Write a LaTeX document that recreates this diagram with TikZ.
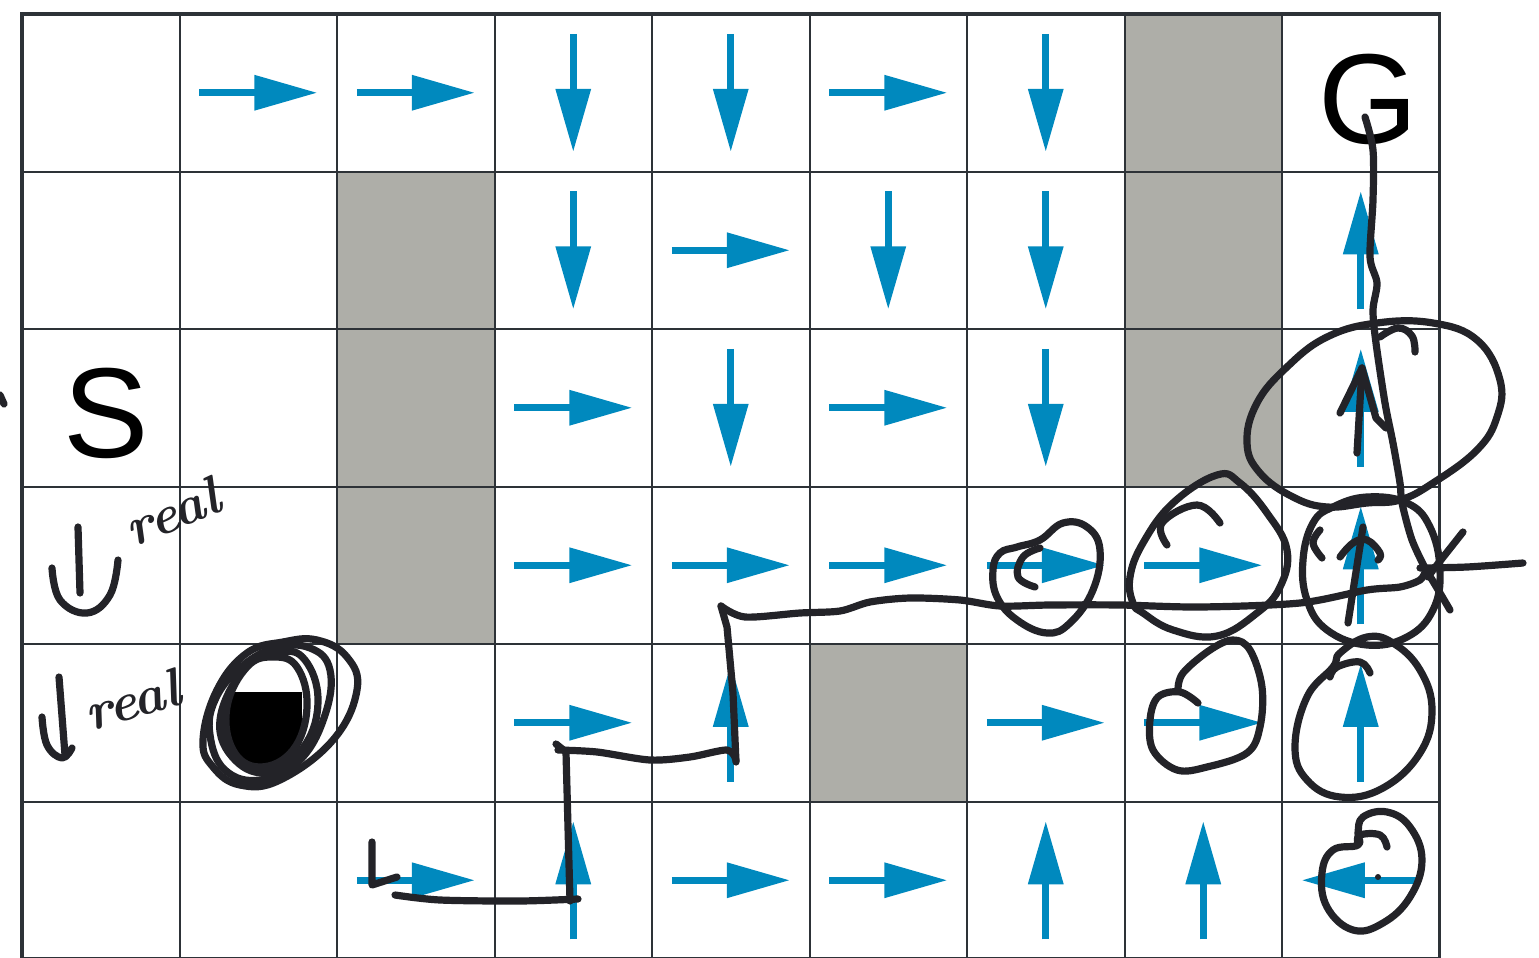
\documentclass[tikz,border=0pt]{standalone}
\usepackage{fontspec}
\newfontfamily\labfont{Liberation Sans}
\usetikzlibrary{arrows.meta}
\definecolor{gridc}{RGB}{45,50,55}
\definecolor{greyc}{RGB}{174,174,168}
\definecolor{arrowc}{RGB}{0,137,190}
\definecolor{inkc}{RGB}{35,35,40}
\tikzset{
  gridline/.style={draw=gridc, line width=1pt},
  barrow/.style={draw=arrowc, line width=3.3pt, -{Triangle[length=31.5pt,width=17pt]}},
  lab/.style={font=\labfont\fontsize{64}{64}\selectfont, text=black, inner sep=0pt},
  ink/.style={draw=inkc, line width=3.6pt, line cap=round, line join=round},
  handtext/.style={font=\bfseries\itshape\fontsize{27}{27}\selectfont, text=inkc, inner sep=0pt}
}
\begin{document}
\begin{tikzpicture}[x=0.5pt,y=-0.5pt]
\useasboundingbox (0,0) rectangle (1539,958);
\fill[white] (0,0) rectangle (1539,958);
% grey cells
\foreach \c/\r in {7/0,2/1,7/1,2/2,7/2,2/3,5/4}
  \fill[greyc] ({22+157.5*\c},{14+157.5*\r}) rectangle ++(157.5,157.5);
% grid
\foreach \k in {0,...,9}
  \draw[gridline] ({22+157.5*\k},14) -- ({22+157.5*\k},959);
\foreach \k in {0,...,6}
  \draw[gridline] (22,{14+157.5*\k}) -- (1439.5,{14+157.5*\k});
\draw[gridline, line width=1.6pt] (22,14) rectangle (1439.5,959);
% blue policy arrows: col/row/dx/dy
\foreach \c/\r/\dx/\dy in {
  1/0/1/0, 2/0/1/0, 3/0/0/1, 4/0/0/1, 5/0/1/0, 6/0/0/1,
  3/1/0/1, 4/1/1/0, 5/1/0/1, 6/1/0/1, 8/1/0/-1,
  3/2/1/0, 4/2/0/1, 5/2/1/0, 6/2/0/1, 8/2/0/-1,
  3/3/1/0, 4/3/1/0, 5/3/1/0, 6/3/1/0, 7/3/1/0, 8/3/0/-1,
  3/4/1/0, 4/4/0/-1, 6/4/1/0, 7/4/1/0, 8/4/0/-1,
  2/5/1/0, 3/5/0/-1, 4/5/1/0, 5/5/1/0, 6/5/0/-1, 7/5/0/-1, 8/5/-1/0}
  \draw[barrow] ({100.75+157.5*\c-59*(\dx)},{92.75+157.5*\r-59*(\dy)}) -- ({100.75+157.5*\c+59*(\dx)},{92.75+157.5*\r+59*(\dy)});
% labels
\node[lab] (S) at (106,413) {S};
\node[lab] (G) at (1368,99) {G};
% black square scribble
\begin{scope}
  \clip plot[smooth cycle, tension=0.7] coordinates {(224,707) (230,752) (260,770) (296,752) (310,707) (300,665) (273,655) (245,665)};
  \fill[black] (222,692) rectangle (302,775);
\end{scope}
\draw[ink] plot[smooth cycle, tension=0.7] coordinates {(203,740) (213,767) (240,785) (280,780) (333,740) (357,690) (347,657) (317,640) (283,642) (247,653) (217,690)};
\draw[ink] plot[smooth cycle, tension=0.7] coordinates {(210,735) (225,770) (260,780) (300,760) (325,715) (330,670) (310,648) (275,648) (240,668) (215,700)};
\draw[ink] plot[smooth cycle, tension=0.7] coordinates {(227,707) (233,750) (260,767) (293,750) (307,707) (297,667) (273,657) (247,667)};
\draw[ink] plot[smooth cycle, tension=0.7] coordinates {(220,720) (235,760) (270,772) (305,745) (318,700) (305,660) (280,652) (245,668)};
% "down real" notes
\draw[ink] (78,527) -- (80,593);
\draw[ink] plot[smooth, tension=0.7] coordinates {(52,568) (60,600) (87,613) (110,595) (118,560)};
\node[handtext, rotate=22] (real1) at (172,512) {real};
\draw[ink] (59,677) -- (65,755);
\draw[ink] plot[smooth, tension=0.7] coordinates {(42,717) (47,745) (62,758) (72,748)};
\node[handtext, rotate=16] (real2) at (132,700) {real};
\draw[ink] (0,395) -- (4,404);
% start mark L
\draw[ink] (372,842) -- (372,885) -- (397,877);
% path
\draw[ink] plot[smooth, tension=0.5] coordinates {(395,895) (440,900) (520,901) (578,899)};
\draw[ink] (570,901) -- (568,827) -- (566,752) -- (556,744);
\draw[ink] plot[smooth, tension=0.5] coordinates {(558,750) (597,752) (650,760) (690,757) (727,750) (736,760)};
\draw[ink] (736,762) -- (733,693) -- (727,627) -- (721,606);
\draw[ink] plot[smooth, tension=0.5] coordinates {(721,606) (745,617) (800,613) (840,611) (870,602) (910,598) (960,600) (1000,606) (1050,605) (1120,605) (1200,607) (1300,603) (1367,590) (1400,587) (1420,580) (1426,570)};
\draw[ink] plot[smooth, tension=0.5] coordinates {(1426,570) (1412,540) (1402,503) (1400,483) (1393,443) (1385,403) (1376,343) (1373,310) (1377,283) (1370,257) (1373,200) (1373,150) (1365,117)};
% circle row3 col6
\draw[ink] plot[smooth cycle, tension=0.7] coordinates {(993,570) (1000,553) (1017,547) (1040,540) (1063,523) (1087,527) (1100,550) (1093,590) (1070,623) (1047,633) (1017,620) (997,597)};
\draw[ink] plot[smooth, tension=0.7] coordinates {(1040,548) (1023,557) (1018,577) (1035,587)};
% circle row3 col7
\draw[ink] plot[smooth cycle, tension=0.7] coordinates {(1133,603) (1130,577) (1143,543) (1173,503) (1217,475) (1240,483) (1267,513) (1287,550) (1280,587) (1257,613) (1217,636) (1173,630) (1143,613)};
\draw[ink] plot[smooth, tension=0.7] coordinates {(1167,545) (1162,523) (1197,505) (1220,523)};
% big ellipse row2 col8
\draw[ink] plot[smooth cycle, tension=0.7] coordinates {(1247,443) (1257,403) (1287,367) (1327,337) (1377,323) (1433,323) (1477,340) (1500,380) (1497,417) (1477,450) (1433,483) (1400,500) (1367,503) (1327,507) (1293,497) (1260,473)};
\draw[ink] plot[smooth, tension=0.7] coordinates {(1380,337) (1398,328) (1412,336) (1415,352)};
\draw[ink] (1357,453) -- (1362,368);
\draw[ink] (1340,413) -- (1362,368) -- (1376,418) -- (1386,428);
% circle row3 col8
\draw[ink] plot[smooth cycle, tension=0.7] coordinates {(1313,523) (1303,560) (1307,600) (1327,630) (1367,645) (1407,637) (1433,610) (1440,570) (1430,527) (1407,503) (1367,497) (1333,507)};
\draw[ink] plot[smooth, tension=0.7] coordinates {(1320,530) (1313,543) (1322,558)};
\draw[ink] (1348,623) -- (1363,527);
\draw[ink] plot[smooth, tension=0.7] coordinates {(1340,557) (1353,543) (1367,540) (1380,553) (1378,560)};
% star mark and right stroke
\draw[ink] (1463,532) -- (1433,570) -- (1428,577);
\draw[ink] (1428,573) -- (1440,593) -- (1450,610);
\draw[ink] plot[smooth, tension=0.5] coordinates {(1420,568) (1467,567) (1523,563)};
% circle row4 col7
\draw[ink] plot[smooth, tension=0.6] coordinates {(1198,703) (1180,692) (1158,697) (1150,720) (1153,750) (1177,770) (1207,767) (1247,753) (1260,727) (1262,687) (1250,650) (1233,640) (1210,650) (1183,673) (1178,690)};
% circle row4 col8
\draw[ink] plot[smooth cycle, tension=0.7] coordinates {(1333,667) (1307,697) (1295,747) (1307,780) (1340,797) (1383,788) (1420,753) (1432,710) (1420,670) (1393,643) (1367,637) (1340,653)};
\draw[ink] plot[smooth, tension=0.7] coordinates {(1330,677) (1337,667) (1360,662) (1370,673)};
% circle row5 col8
\draw[ink] plot[smooth cycle, tension=0.7] coordinates {(1358,845) (1333,850) (1322,873) (1327,907) (1353,930) (1383,923) (1410,897) (1422,860) (1410,827) (1387,812) (1363,817) (1358,833)};
\draw[ink] plot[smooth, tension=0.7] coordinates {(1358,843) (1360,835) (1380,835) (1387,847)};
\fill[inkc] (1378,877) circle (3);
\end{tikzpicture}
\end{document}
